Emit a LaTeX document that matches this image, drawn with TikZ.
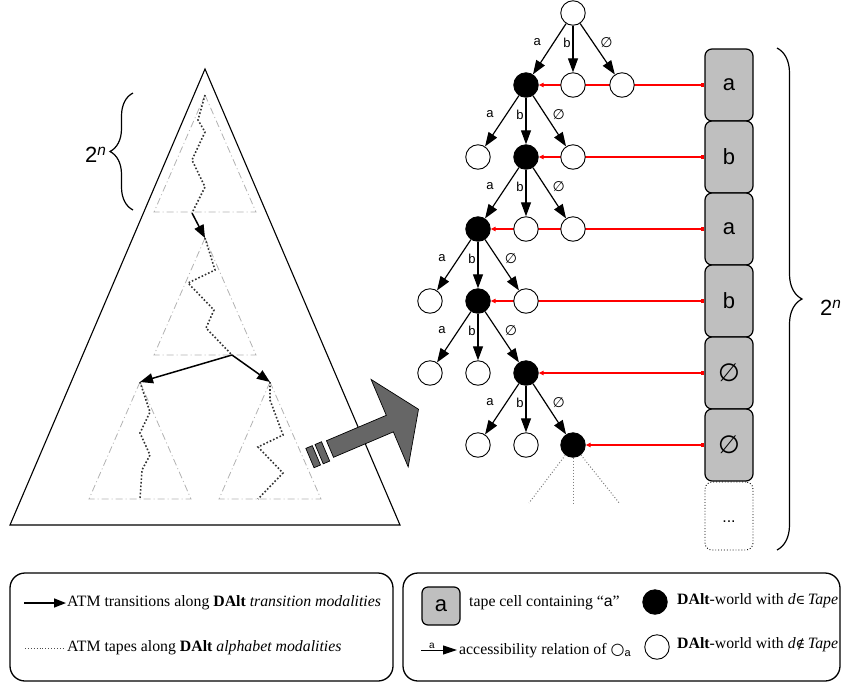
\documentclass[tikz,border=0pt]{standalone}
\usepackage{fontspec}
\setmainfont{Liberation Sans}
\newfontfamily\tnr{Liberation Serif}
\newfontfamily\arialf{Liberation Sans}
\newfontfamily\dvs{DejaVu Sans}
\newfontfamily\dvserif{DejaVu Serif}
\usetikzlibrary{arrows.meta,decorations.pathreplacing,backgrounds}
\newcommand\emptyglyph{{\dvs ∅}}
\begin{document}
\begin{tikzpicture}[x=1pt,y=-1pt,
  wnode/.style={circle,draw,fill=white,minimum size=24.5pt,inner sep=0pt,line width=0.9pt},
  bnode/.style={circle,draw,fill=black,minimum size=24.5pt,inner sep=0pt,line width=0.9pt},
  tedge/.style={line width=1.2pt,-{Triangle[length=14pt,width=10pt]}},
  elab/.style={font=\fontsize{13}{13}\selectfont,inner sep=0pt,pos=.37},
  la/.style={elab,xshift=-16.5pt},
  lb/.style={elab,xshift=-6pt},
  lc/.style={elab,xshift=13.5pt},
  redl/.style={draw=red,line width=1.4pt,{Square[length=3.5pt,width=3.5pt]}-{Triangle[length=5pt,width=4.5pt]}},
  cell/.style={rectangle,rounded corners=7pt,draw,line width=1.2pt,fill=gray!50,minimum width=48pt,minimum height=72pt,inner sep=0pt,font=\fontsize{22}{22}\selectfont},
  cellx/.style={rectangle,rounded corners=7pt,draw,dotted,line width=0.9pt,minimum width=48pt,minimum height=68pt,inner sep=0pt,font=\fontsize{16}{16}\selectfont},
  dotl/.style={draw=gray,dotted,line width=1pt},
  bigtri/.style={line width=1.1pt},
  subtri/.style={draw=gray!60,line width=0.8pt,dash pattern=on 7pt off 3pt on 1pt off 3pt},
  tapeline/.style={draw=black!80,dotted,line width=1.6pt},
  trans/.style={line width=1.5pt,-{Triangle[length=13pt,width=10pt]}},
  bracest/.style={line width=1.2pt,decorate},
  bigarrow/.style={fill=black!60,draw=black,line width=0.7pt},
  legbox/.style={draw,line width=1.3pt,rounded corners=15pt},
  legtext/.style={font=\tnr\fontsize{15.8}{16}\selectfont,inner sep=0pt,anchor=west},
  twon/.style={font=\fontsize{22}{22}\selectfont,inner sep=0pt,anchor=west}
]
\useasboundingbox (0,0) rectangle (841,686);

% ---------- left triangle ----------
\draw[bigtri] (205,69) -- (400,525) -- (10,525) -- cycle;
\foreach \ax/\ay in {205/95,205/238,140/382,270/382}
  \draw[subtri] (\ax,\ay) -- ++(51,117) -- ++(-102,0) -- cycle;
\draw[tapeline] (205,95) -- (198,120) -- (205,132) -- (192,160) -- (205,187) -- (192,213);
\draw[tapeline] (205,238) -- (215,270) -- (188,283) -- (214,310) -- (206,328) -- (232,355);
\draw[tapeline] (140,382) -- (150,412) -- (140,433) -- (150,455) -- (142,470) -- (140,499);
\draw[tapeline] (270,382) -- (270,400) -- (283,435) -- (258,447) -- (283,473) -- (258,499);
\coordinate (t1e) at (192,213);
\coordinate (t2s) at (205,238);
\coordinate (t2e) at (232,355);
\coordinate (t3s) at (140,382);
\coordinate (t4s) at (270,382);
\draw[trans] (t1e) -- (t2s);
\draw[trans] (t2e) -- (t3s);
\draw[trans] (t2e) -- (t4s);

% left brace
\draw[bracest,decoration={brace,amplitude=23pt}] (133,210) -- (133,93);
\node[twon] (nl) at (85,155) {2\textsuperscript{\itshape n}};

% big gray arrow
\begin{scope}[shift={(330,449)},rotate=23]
  \draw[bigarrow] (0,-9) -- (65,-9) -- (65,-48) -- (97,-2) -- (65,47) -- (65,9) -- (0,9) -- cycle;
  \draw[bigarrow] (-12,-10) rectangle (-5,11);
  \draw[bigarrow] (-22,-10) rectangle (-15,11);
\end{scope}

% ---------- tree ----------
\node[wnode] (R)  at (573,13) {};
\node[bnode] (A1) at (526,85) {};
\node[wnode] (A2) at (573,85) {};
\node[wnode] (A3) at (622,85) {};
\node[wnode] (B1) at (478,157) {};
\node[bnode] (B2) at (526,157) {};
\node[wnode] (B3) at (573,157) {};
\node[bnode] (C1) at (478,229) {};
\node[wnode] (C2) at (526,229) {};
\node[wnode] (C3) at (573,229) {};
\node[wnode] (D1) at (430,301) {};
\node[bnode] (D2) at (478,301) {};
\node[wnode] (D3) at (526,301) {};
\node[wnode] (E1) at (430,373) {};
\node[wnode] (E2) at (478,373) {};
\node[bnode] (E3) at (526,373) {};
\node[wnode] (F1) at (478,445) {};
\node[wnode] (F2) at (526,445) {};
\node[bnode] (F3) at (573,445) {};

\foreach \p/\x/\y/\z in {R/A1/A2/A3, A1/B1/B2/B3, B2/C1/C2/C3, C1/D1/D2/D3, D2/E1/E2/E3, E3/F1/F2/F3}{
  \draw[tedge] (\p) -- node[la]{a} (\x);
  \draw[tedge] (\p) -- node[lb]{b} (\y);
  \draw[tedge] (\p) -- node[lc,font=\fontsize{14}{14}\selectfont]{\emptyglyph} (\z);
}
\coordinate (f1) at (529,503);
\coordinate (f2) at (573,504);
\coordinate (f3) at (620,504);
\draw[dotl] (F3) -- (f1);
\draw[dotl] (F3) -- (f2);
\draw[dotl] (F3) -- (f3);

% ---------- tape ----------
\node[cell] (T1) at (729,85) {a};
\node[cell] (T2) at (729,157) {b};
\node[cell] (T3) at (729,229) {a};
\node[cell] (T4) at (729,301) {b};
\node[cell,font=\fontsize{25}{25}\selectfont] (T5) at (729,373) {\emptyglyph};
\node[cell,font=\fontsize{25}{25}\selectfont] (T6) at (729,445) {\emptyglyph};
\node[cellx] (T7) at (729,516) {\smash{\raisebox{-6pt}{...}}};

\begin{pgfonlayer}{background}
\draw[redl] (T1.west) -- (A1);
\draw[redl] (T2.west) -- (B2);
\draw[redl] (T3.west) -- (C1);
\draw[redl] (T4.west) -- (D2);
\draw[redl] (T5.west) -- (E3);
\draw[redl] (T6.west) -- (F3);
\end{pgfonlayer}

% right brace
\draw[bracest,decoration={brace,amplitude=25pt}] (777,48) -- (777,550);
\node[twon] (nr) at (820,308) {2\textsuperscript{\itshape n}};

% ---------- legends ----------
\draw[legbox] (10,573) rectangle (393,681);
\draw[legbox] (403,573) rectangle (840,681);

\coordinate (la1) at (24,603);
\coordinate (la2) at (66,603);
\draw[line width=1.5pt,-{Triangle[length=12pt,width=9pt]}] (la1) -- (la2);
\node[legtext] (lt1) at (67,603) {ATM transitions along \textbf{DAlt} \textit{transition modalities}};
\coordinate (ld1) at (25,648);
\coordinate (ld2) at (63,648);
\draw[draw=black!70,dotted,line width=0.9pt] (ld1) -- (ld2);
\node[legtext] (lt2) at (67,648) {ATM tapes along \textbf{DAlt} \textit{alphabet modalities}};

\node[cell,minimum width=38pt,minimum height=38pt,rounded corners=6pt] (lc) at (441,606) {a};
\node[legtext] (lt3) at (469,603) {tape cell containing “{\arialf a}”};
\node[bnode] (lbn) at (655,602) {};
\node[legtext] (lt4) at (677,601) {\textbf{DAlt}-world with \textit{d}{\dvserif\fontsize{13}{13}\selectfont ∈}\,\textit{Tape}};

\coordinate (lr1) at (421,650);
\coordinate (lr2) at (457,650);
\draw[line width=1pt,-{Triangle[length=14pt,width=9pt]}] (lr1) -- node[above=1pt,pos=.3,font=\fontsize{10}{10}\selectfont,inner sep=0pt]{a} (lr2);
\node[legtext] (lt5) at (459,651) {accessibility relation of {\dvs\fontsize{16}{16}\selectfont ○}{\arialf\fontsize{11}{11}\selectfont\raisebox{-2pt}{a}}};
\node[wnode] (lwn) at (657,647) {};
\node[legtext] (lt6) at (677,645) {\textbf{DAlt}-world with \textit{d}{\dvserif\fontsize{13}{13}\selectfont ∉}\,\textit{Tape}};
\end{tikzpicture}
\end{document}
